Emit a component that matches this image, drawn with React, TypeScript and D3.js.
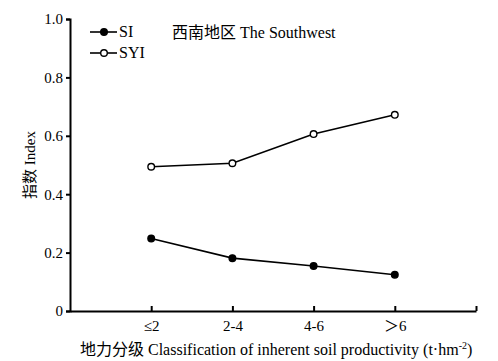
import { useEffect, useRef } from "react";
import * as d3 from "d3";

const categories = ["≤2", "2-4", "4-6", "＞6"];
const siValues = [0.248, 0.181, 0.154, 0.124];
const syiValues = [0.494, 0.506, 0.606, 0.672];
const yTicks = [0, 0.2, 0.4, 0.6, 0.8, 1.0];

const FONT = "'Liberation Serif', 'Times New Roman', 'Noto Sans CJK SC', serif";

const App = () => {
  const svgRef = useRef<SVGSVGElement | null>(null);

  useEffect(() => {
    const svg = d3.select(svgRef.current);
    svg.selectAll("*").remove();

    const x = d3.scaleLinear().domain([0, categories.length + 1]).range([70, 476]);
    const y = d3.scaleLinear().domain([0, 1]).range([311, 19]);

    // y axis
    const yAxis = svg
      .append("g")
      .attr("transform", "translate(70,0)")
      .call(
        d3
          .axisLeft(y)
          .tickValues(yTicks)
          .tickSize(4)
          .tickPadding(3)
          .tickFormat((d) => (d === 0 ? "0" : d3.format(".1f")(d as number)))
      );
    yAxis.select(".domain").attr("stroke", "#000").attr("stroke-width", 2);
    yAxis.selectAll(".tick line").attr("stroke-width", 2);
    yAxis
      .selectAll(".tick text")
      .attr("font-family", FONT)
      .attr("font-size", 15)
      .attr("fill", "#000");

    // x axis, ticks pointing up
    const xAxis = svg
      .append("g")
      .attr("transform", "translate(0,311)")
      .call(
        d3
          .axisBottom(x)
          .tickValues(d3.range(1, categories.length + 2))
          .tickSize(-5)
          .tickSizeOuter(0)
          .tickPadding(9)
          .tickFormat((d) => categories[(d as number) - 1] ?? "")
      );
    xAxis.select(".domain").attr("stroke", "#000").attr("stroke-width", 2);
    xAxis.selectAll(".tick line").attr("stroke-width", 2);
    xAxis
      .selectAll(".tick text")
      .attr("font-family", FONT)
      .attr("font-size", 15)
      .attr("fill", "#000");

    const line = d3
      .line<number>()
      .x((_, i) => x(i + 1))
      .y((d) => y(d));

    const series = [
      { values: siValues, fill: "#000" },
      { values: syiValues, fill: "#fff" },
    ];
    series.forEach((s) => {
      svg
        .append("path")
        .datum(s.values)
        .attr("d", line)
        .attr("fill", "none")
        .attr("stroke", "#000")
        .attr("stroke-width", 1.6);
      svg
        .append("g")
        .selectAll("circle")
        .data(s.values)
        .enter()
        .append("circle")
        .attr("cx", (_, i) => x(i + 1))
        .attr("cy", (d) => y(d))
        .attr("r", 3.3)
        .attr("fill", s.fill)
        .attr("stroke", "#000")
        .attr("stroke-width", 1.4);
    });

    // legend
    const legend = [
      { label: "SI", fill: "#000" },
      { label: "SYI", fill: "#fff" },
    ];
    legend.forEach((l, i) => {
      const ly = 32 + i * 21;
      svg
        .append("line")
        .attr("x1", 90)
        .attr("x2", 117)
        .attr("y1", ly)
        .attr("y2", ly)
        .attr("stroke", "#000")
        .attr("stroke-width", 1.6);
      svg
        .append("circle")
        .attr("cx", 104)
        .attr("cy", ly)
        .attr("r", 3.3)
        .attr("fill", l.fill)
        .attr("stroke", "#000")
        .attr("stroke-width", 1.4);
      svg
        .append("text")
        .attr("x", 119)
        .attr("y", ly + 5)
        .attr("font-family", FONT)
        .attr("font-size", 16)
        .text(l.label);
    });

    svg
      .append("text")
      .attr("x", 172)
      .attr("y", 38)
      .attr("font-family", FONT)
      .attr("font-size", 16)
      .text("西南地区 The Southwest");

    svg
      .append("text")
      .attr("transform", "translate(35,165) rotate(-90)")
      .attr("text-anchor", "middle")
      .attr("font-family", FONT)
      .attr("font-size", 15)
      .text("指数 Index");

    const xt = svg
      .append("text")
      .attr("x", 80)
      .attr("y", 355)
      .attr("font-family", FONT)
      .attr("font-size", 16);
    xt.append("tspan").text("地力分级 Classification of inherent soil productivity (t·hm");
    xt.append("tspan").attr("dy", -6).attr("font-size", 10).text("-2");
    xt.append("tspan").attr("dy", 6).text(")");
  }, []);

  return (
    <svg
      ref={svgRef}
      width={498}
      height={361}
      style={{ position: "absolute", left: 0, top: 0, background: "#fff" }}
    ></svg>
  );
};

export default App;
